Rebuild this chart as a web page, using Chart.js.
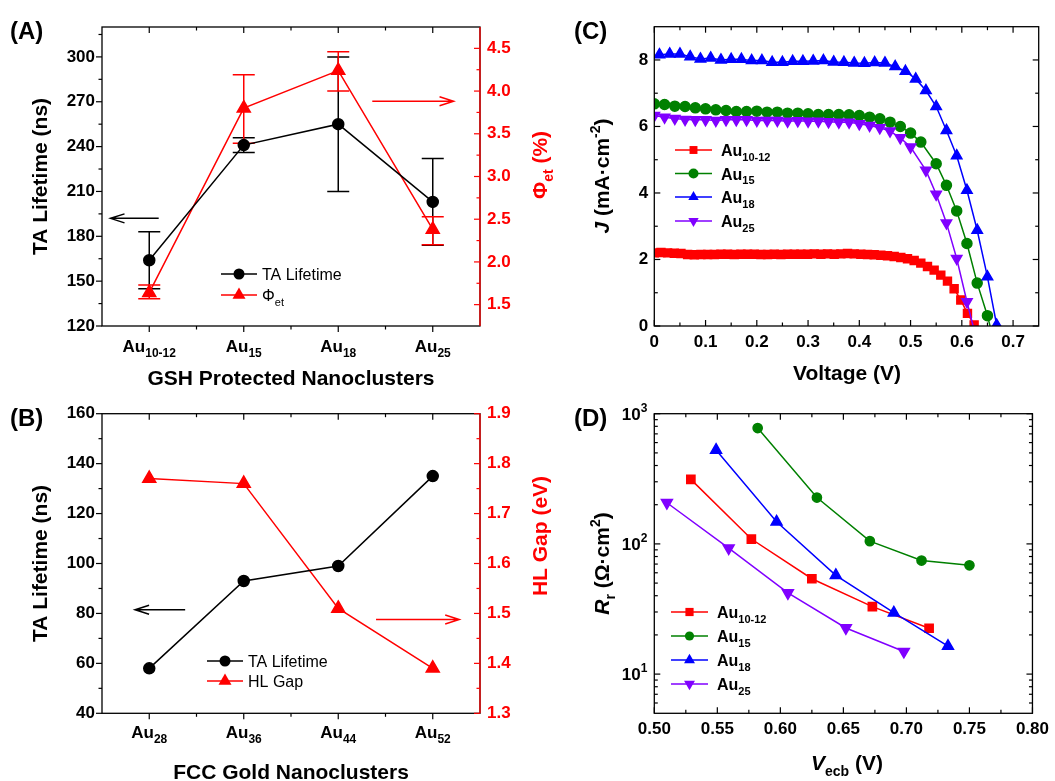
<!DOCTYPE html>
<html><head><meta charset="utf-8">
<script src="https://cdn.jsdelivr.net/npm/chart.js@4.4.0/dist/chart.umd.min.js"></script>
<style>
html,body{margin:0;padding:0;background:#fff;}
#wrap{position:relative;width:1055px;height:781px;overflow:hidden;background:#fff;}
canvas{position:absolute;}
</style></head><body>
<div id="wrap">
<canvas id="cA" width="560" height="390" style="left:0;top:0"></canvas>
<canvas id="cB" width="560" height="391" style="left:0;top:390px"></canvas>
<canvas id="cC" width="527" height="390" style="left:528px;top:0"></canvas>
<canvas id="cD" width="527" height="391" style="left:528px;top:390px"></canvas>
</div>
<script>
// ---------- Panel A data ----------
const GSH_CATEGORIES = ['Au_{10-12}', 'Au_{15}', 'Au_{18}', 'Au_{25}'];
const GSH_TA_LIFETIME = [164, 241, 255, 203];
const GSH_TA_ERR_LOW = [145, 236, 210, 174];
const GSH_TA_ERR_HIGH = [183, 246, 300, 232];
const GSH_PHI_ET = [1.64, 3.80, 4.24, 2.38];
const GSH_PHI_ERR_LOW = [1.57, 3.39, 4.00, 2.20];
const GSH_PHI_ERR_HIGH = [1.73, 4.19, 4.46, 2.53];
const A_LEFT_TICKS = [120, 150, 180, 210, 240, 270, 300];
const A_LEFT_MINOR = [135, 165, 195, 225, 255, 285, 315];
const A_RIGHT_TICKS = [1.5, 2.0, 2.5, 3.0, 3.5, 4.0, 4.5];
const A_RIGHT_MINOR = [1.75, 2.25, 2.75, 3.25, 3.75, 4.25];

// ---------- Panel B data ----------
const FCC_CATEGORIES = ['Au_{28}', 'Au_{36}', 'Au_{44}', 'Au_{52}'];
const FCC_TA_LIFETIME = [58, 93, 99, 135];
const FCC_HL_GAP = [1.77, 1.76, 1.51, 1.39];
const B_LEFT_TICKS = [40, 60, 80, 100, 120, 140, 160];
const B_LEFT_MINOR = [50, 70, 90, 110, 130, 150];
const B_RIGHT_TICKS = [1.3, 1.4, 1.5, 1.6, 1.7, 1.8, 1.9];
const B_RIGHT_MINOR = [1.35, 1.45, 1.55, 1.65, 1.75, 1.85];

// ---------- Panel C data (J-V curves) ----------
const JV_AU1012_V = [0.000,0.013,0.026,0.039,0.052,0.065,0.078,0.091,0.104,0.117,0.130,0.143,0.156,0.169,0.182,0.195,0.208,0.221,0.234,0.247,0.260,0.273,0.286,0.299,0.312,0.325,0.338,0.351,0.364,0.377,0.390,0.403,0.416,0.429,0.442,0.455,0.468,0.481,0.494,0.507,0.520,0.533,0.546,0.559,0.572,0.585,0.598,0.611,0.624];
const JV_AU1012_J = [2.20,2.21,2.20,2.19,2.18,2.15,2.14,2.15,2.15,2.15,2.16,2.16,2.15,2.16,2.16,2.16,2.15,2.15,2.16,2.15,2.16,2.16,2.16,2.16,2.17,2.16,2.17,2.16,2.17,2.18,2.17,2.16,2.15,2.14,2.13,2.11,2.09,2.06,2.02,1.97,1.89,1.79,1.68,1.53,1.35,1.12,0.78,0.38,0.03];
const JV_AU15_V = [0.00,0.02,0.04,0.06,0.08,0.10,0.12,0.14,0.16,0.18,0.20,0.22,0.24,0.26,0.28,0.30,0.32,0.34,0.36,0.38,0.40,0.42,0.44,0.46,0.48,0.50,0.52,0.55,0.57,0.59,0.61,0.63,0.65,0.655];
const JV_AU15_J = [6.68,6.66,6.61,6.60,6.56,6.53,6.50,6.48,6.45,6.45,6.46,6.43,6.43,6.40,6.40,6.38,6.36,6.36,6.36,6.35,6.33,6.28,6.23,6.13,6.00,5.80,5.53,4.88,4.23,3.46,2.48,1.29,0.31,0];
const JV_AU18_V = [0.01,0.03,0.05,0.07,0.09,0.11,0.13,0.15,0.17,0.19,0.21,0.23,0.25,0.27,0.29,0.31,0.33,0.35,0.37,0.39,0.41,0.43,0.45,0.47,0.49,0.51,0.53,0.55,0.57,0.59,0.61,0.63,0.65,0.668];
const JV_AU18_J = [8.16,8.18,8.18,8.10,8.03,8.06,8.00,8.02,8.02,7.98,7.98,7.93,7.93,7.96,7.96,7.97,7.98,7.94,7.93,7.91,7.90,7.92,7.91,7.80,7.66,7.43,7.08,6.60,5.88,5.12,4.08,2.88,1.48,0.03];
const JV_AU25_V = [0.00,0.02,0.04,0.06,0.08,0.10,0.12,0.14,0.16,0.18,0.20,0.22,0.24,0.26,0.28,0.30,0.32,0.34,0.36,0.38,0.40,0.42,0.44,0.46,0.48,0.50,0.53,0.55,0.57,0.59,0.61,0.622];
const JV_AU25_J = [6.33,6.28,6.24,6.21,6.20,6.20,6.18,6.20,6.20,6.20,6.18,6.18,6.18,6.16,6.17,6.16,6.16,6.14,6.13,6.13,6.08,6.03,5.96,5.86,5.66,5.38,4.68,3.96,3.10,2.03,0.73,0];
const C_X_TICKS = [0, 0.1, 0.2, 0.3, 0.4, 0.5, 0.6, 0.7];
const C_X_MINOR = [0.05, 0.15, 0.25, 0.35, 0.45, 0.55, 0.65];
const C_Y_TICKS = [0, 2, 4, 6, 8];
const C_Y_MINOR = [1, 3, 5, 7];

// ---------- Panel D data (recombination resistance) ----------
const RR_AU1012_V = [0.529, 0.577, 0.625, 0.673, 0.718];
const RR_AU1012_R = [313, 109, 54, 33, 22.5];
const RR_AU15_V = [0.582, 0.629, 0.671, 0.712, 0.750];
const RR_AU15_R = [776, 227, 105, 74.5, 68.5];
const RR_AU18_V = [0.549, 0.597, 0.644, 0.690, 0.733];
const RR_AU18_R = [526, 148, 57.4, 29.6, 16.4];
const RR_AU25_V = [0.510, 0.559, 0.606, 0.652, 0.698];
const RR_AU25_R = [207, 92.7, 42, 22.6, 14.9];
const D_X_TICKS = [0.50, 0.55, 0.60, 0.65, 0.70, 0.75, 0.80];
const D_X_MINOR = [0.525, 0.575, 0.625, 0.675, 0.725, 0.775];
const D_Y_TICKS = [10, 100, 1000];
const D_Y_MINOR = [6, 7, 8, 9, 20, 30, 40, 50, 60, 70, 80, 90, 200, 300, 400, 500, 600, 700, 800, 900];

const SERIES_NAMES = ['Au_{10-12}', 'Au_{15}', 'Au_{18}', 'Au_{25}'];

// ---------- helpers ----------
const FONT = '"Liberation Sans", Arial, Helvetica, sans-serif';
Chart.defaults.font.family = FONT;
const RED = '#ff0000', GREEN = '#008000', BLUE = '#0000ff', PURPLE = '#8000ff';

function parseRich(s) {
  const out = []; let i = 0, buf = '';
  while (i < s.length) {
    const c = s[i];
    if ((c === '_' || c === '^' || c === '~') && s[i + 1] === '{') {
      if (buf) { out.push({ t: buf, m: 'n' }); buf = ''; }
      const j = s.indexOf('}', i + 2);
      out.push({ t: s.slice(i + 2, j), m: c === '_' ? 'sub' : c === '^' ? 'sup' : 'it' });
      i = j + 1;
    } else { buf += c; i++; }
  }
  if (buf) out.push({ t: buf, m: 'n' });
  return out;
}
function drawRich(ctx, s, x, y, o) {
  const segs = parseRich(s);
  const weight = o.weight || 'bold';
  const f = m => ((m === 'it') ? 'italic ' : '') + weight + ' ' + ((m === 'sub' || m === 'sup') ? o.sub : o.size) + 'px ' + FONT;
  let w = 0;
  segs.forEach(sg => { ctx.font = f(sg.m); sg.w = ctx.measureText(sg.t).width; w += sg.w; });
  ctx.save();
  ctx.translate(x, y);
  if (o.rot) ctx.rotate(o.rot);
  let cx = o.align === 'center' ? -w / 2 : o.align === 'right' ? -w : 0;
  ctx.fillStyle = o.color || '#000';
  ctx.textBaseline = 'alphabetic'; ctx.textAlign = 'left';
  segs.forEach(sg => {
    ctx.font = f(sg.m);
    const dy = sg.m === 'sub' ? o.size * 0.3 : sg.m === 'sup' ? -o.size * 0.45 : 0;
    ctx.fillText(sg.t, cx, dy);
    cx += sg.w;
  });
  ctx.restore();
}
function drawMarker(ctx, style, r, x, y, rot) {
  ctx.beginPath();
  if (style === 'circle') ctx.arc(x, y, r, 0, Math.PI * 2);
  else if (style === 'rect') { const s = r * Math.SQRT1_2; ctx.rect(x - s, y - s, 2 * s, 2 * s); }
  else {
    let a = (rot || 0) * Math.PI / 180;
    for (let k = 0; k < 3; k++) {
      const px = x + Math.sin(a) * r, py = y - Math.cos(a) * r;
      if (k) ctx.lineTo(px, py); else ctx.moveTo(px, py);
      a += 2 * Math.PI / 3;
    }
    ctx.closePath();
  }
  ctx.fill();
}

function decor(spec) {
  return {
    id: 'decor',
    beforeDatasetsDraw(chart) {
      const ctx = chart.ctx;
      (spec.errorBars || []).forEach(eb => {
        const xs = chart.scales[eb.x], ys = chart.scales[eb.y];
        ctx.save(); ctx.strokeStyle = eb.color; ctx.lineWidth = 1.5;
        eb.lo.forEach((lo, i) => {
          const x = xs.getPixelForValue(i), y0 = ys.getPixelForValue(lo), y1 = ys.getPixelForValue(eb.hi[i]);
          ctx.beginPath();
          ctx.moveTo(x, y0); ctx.lineTo(x, y1);
          ctx.moveTo(x - 11, y0); ctx.lineTo(x + 11, y0);
          ctx.moveTo(x - 11, y1); ctx.lineTo(x + 11, y1);
          ctx.stroke();
        });
        ctx.restore();
      });
    },
    afterDraw(chart) {
      const ctx = chart.ctx, a = chart.chartArea, ox = spec.ox, oy = spec.oy;
      ctx.save();
      ctx.lineWidth = 1.3; ctx.strokeStyle = '#000';
      ctx.strokeRect(a.left, a.top, a.right - a.left, a.bottom - a.top);
      if (spec.rightSpine) {
        ctx.strokeStyle = spec.rightSpine; ctx.beginPath();
        ctx.moveTo(a.right, a.top); ctx.lineTo(a.right, a.bottom); ctx.stroke();
      }
      spec.ticks.forEach(t => {
        const sc = chart.scales[t.scale];
        const v = { left: [1, 0], right: [-1, 0], bottom: [0, -1], top: [0, 1] }[t.side];
        const s = t.dir === 'in' ? 1 : -1;
        ctx.strokeStyle = t.color || '#000'; ctx.lineWidth = 1.2;
        const one = (val, len) => {
          const p = sc.getPixelForValue(val); let x0, y0;
          if (t.side === 'left') { x0 = a.left; y0 = p; }
          else if (t.side === 'right') { x0 = a.right; y0 = p; }
          else if (t.side === 'bottom') { x0 = p; y0 = a.bottom; }
          else { x0 = p; y0 = a.top; }
          ctx.beginPath(); ctx.moveTo(x0, y0); ctx.lineTo(x0 + v[0] * s * len, y0 + v[1] * s * len); ctx.stroke();
        };
        t.major.forEach(val => one(val, 6));
        (t.minor || []).forEach(val => one(val, 3.5));
      });
      (spec.arrows || []).forEach(ar => {
        const xs = chart.scales[ar.x], ys = chart.scales[ar.y];
        const x0 = xs.getPixelForValue(ar.from), x1 = xs.getPixelForValue(ar.to), y = ys.getPixelForValue(ar.at);
        const d = Math.sign(x1 - x0);
        ctx.strokeStyle = ar.color; ctx.lineWidth = 1.5;
        ctx.beginPath(); ctx.moveTo(x0, y); ctx.lineTo(x1, y);
        ctx.moveTo(x1 - d * 14, y - 4.5); ctx.lineTo(x1, y); ctx.lineTo(x1 - d * 14, y + 4.5);
        ctx.stroke();
      });
      if (spec.cat) {
        const sc = chart.scales[spec.cat.scale];
        spec.cat.labels.forEach((lab, i) => {
          drawRich(ctx, lab, sc.getPixelForValue(i), spec.cat.baseline - oy, { size: 17, sub: 12, align: 'center' });
        });
      }
      if (spec.logLabels) {
        const sc = chart.scales[spec.logLabels.scale];
        spec.logLabels.values.forEach(v => {
          const p = sc.getPixelForValue(v);
          drawRich(ctx, '10^{' + Math.round(Math.log10(v)) + '}', a.left - 7, p + 6, { size: 17, sub: 12, align: 'right' });
        });
      }
      ctx.translate(-ox, -oy);
      (spec.titles || []).forEach(t => {
        drawRich(ctx, t.text, t.x, t.y, { size: t.size || 21, sub: t.sub || 14, align: 'center', rot: t.rot || 0, color: t.color || '#000' });
      });
      if (spec.panel) drawRich(ctx, spec.panel.text, spec.panel.x, spec.panel.y, { size: 24, sub: 16, align: 'left' });
      if (spec.legend) {
        const L = spec.legend;
        L.items.forEach((it, k) => {
          const ds = chart.data.datasets[it.ds];
          const y = L.ys[k];
          ctx.strokeStyle = ds.borderColor; ctx.lineWidth = 1.5;
          ctx.beginPath(); ctx.moveTo(L.x0, y); ctx.lineTo(L.x1, y); ctx.stroke();
          ctx.fillStyle = ds.backgroundColor;
          drawMarker(ctx, ds.pointStyle, ds.legendRadius, (L.x0 + L.x1) / 2, y, ds.rotation || 0);
          drawRich(ctx, it.text, L.tx, y + 6, { size: 16, sub: 11, align: 'left', weight: L.weight });
        });
      }
      ctx.restore();
    }
  };
}

function fixedTicks(arr) { return s => { s.ticks = arr.map(v => ({ value: v })); }; }
const tickFont = { family: FONT, weight: 'bold', size: 17 };
const noGrid = { display: false, drawTicks: false };
const baseOpts = { responsive: false, animation: false, devicePixelRatio: 1, events: [],
  plugins: { legend: { display: false }, tooltip: { enabled: false } } };

// ---------- Chart A ----------
new Chart(document.getElementById('cA'), {
  type: 'line',
  data: {
    labels: GSH_CATEGORIES,
    datasets: [
      { label: 'TA Lifetime', data: GSH_TA_LIFETIME, yAxisID: 'y', borderColor: '#000', backgroundColor: '#000',
        pointStyle: 'circle', pointRadius: 5.5, legendRadius: 5.5, borderWidth: 1.5, tension: 0 },
      { label: 'Φet', data: GSH_PHI_ET, yAxisID: 'y2', borderColor: RED, backgroundColor: RED,
        pointStyle: 'triangle', pointRadius: 7.5, legendRadius: 7.5, borderWidth: 1.5, tension: 0 }
    ]
  },
  options: Object.assign({}, baseOpts, {
    layout: { padding: { top: 27, left: 0, right: 0, bottom: 0 } },
    scales: {
      x: { type: 'category', offset: true, grid: noGrid, border: { display: false }, ticks: { display: false },
           afterFit: s => { s.height = 64; } },
      y: { position: 'left', min: 120, max: 320, grid: noGrid, border: { display: false },
           ticks: { color: '#000', font: tickFont, padding: 7 }, afterBuildTicks: fixedTicks(A_LEFT_TICKS),
           afterFit: s => { s.width = 102; } },
      y2: { position: 'right', min: 1.25, max: 4.75, grid: noGrid, border: { display: false },
            ticks: { color: RED, font: tickFont, padding: 7, callback: v => Number(v).toFixed(1) },
            afterBuildTicks: fixedTicks(A_RIGHT_TICKS), afterFit: s => { s.width = 80; } }
    }
  }),
  plugins: [decor({
    ox: 0, oy: 0, rightSpine: RED,
    errorBars: [
      { x: 'x', y: 'y', lo: GSH_TA_ERR_LOW, hi: GSH_TA_ERR_HIGH, color: '#000' },
      { x: 'x', y: 'y2', lo: GSH_PHI_ERR_LOW, hi: GSH_PHI_ERR_HIGH, color: RED }
    ],
    ticks: [
      { scale: 'y', side: 'left', dir: 'out', major: A_LEFT_TICKS, minor: A_LEFT_MINOR },
      { scale: 'y2', side: 'right', dir: 'in', major: A_RIGHT_TICKS, minor: A_RIGHT_MINOR, color: RED },
      { scale: 'x', side: 'bottom', dir: 'out', major: [0, 1, 2, 3], minor: [0.5, 1.5, 2.5] },
      { scale: 'x', side: 'top', dir: 'in', major: [0, 1, 2, 3], minor: [0.5, 1.5, 2.5] }
    ],
    arrows: [
      { x: 'x', y: 'y', from: 0.10, to: -0.41, at: 192, color: '#000' },
      { x: 'x', y: 'y2', from: 2.36, to: 3.22, at: 3.88, color: RED }
    ],
    cat: { scale: 'x', labels: GSH_CATEGORIES, baseline: 352 },
    titles: [
      { text: 'TA Lifetime (ns)', x: 47, y: 176.5, rot: -Math.PI / 2 },
      { text: 'Φ_{et} (%)', x: 547, y: 165, rot: -Math.PI / 2, color: RED },
      { text: 'GSH Protected Nanoclusters', x: 291, y: 385 }
    ],
    panel: { text: '(A)', x: 10, y: 39 },
    legend: { x0: 221, x1: 257, tx: 262, ys: [274, 295], weight: 'normal',
      items: [{ ds: 0, text: 'TA Lifetime' }, { ds: 1, text: 'Φ_{et}' }] }
  })]
});

// ---------- Chart B ----------
new Chart(document.getElementById('cB'), {
  type: 'line',
  data: {
    labels: FCC_CATEGORIES,
    datasets: [
      { label: 'TA Lifetime', data: FCC_TA_LIFETIME, yAxisID: 'y', borderColor: '#000', backgroundColor: '#000',
        pointStyle: 'circle', pointRadius: 5.5, legendRadius: 5.5, borderWidth: 1.5, tension: 0 },
      { label: 'HL Gap', data: FCC_HL_GAP, yAxisID: 'y2', borderColor: RED, backgroundColor: RED,
        pointStyle: 'triangle', pointRadius: 7.5, legendRadius: 7.5, borderWidth: 1.5, tension: 0 }
    ]
  },
  options: Object.assign({}, baseOpts, {
    layout: { padding: { top: 23.7, left: 0, right: 0, bottom: 0 } },
    scales: {
      x: { type: 'category', offset: true, grid: noGrid, border: { display: false }, ticks: { display: false },
           afterFit: s => { s.height = 67.7; } },
      y: { position: 'left', min: 40, max: 160, grid: noGrid, border: { display: false },
           ticks: { color: '#000', font: tickFont, padding: 7 }, afterBuildTicks: fixedTicks(B_LEFT_TICKS),
           afterFit: s => { s.width = 102; } },
      y2: { position: 'right', min: 1.3, max: 1.9, grid: noGrid, border: { display: false },
            ticks: { color: RED, font: tickFont, padding: 7, callback: v => Number(v).toFixed(1) },
            afterBuildTicks: fixedTicks(B_RIGHT_TICKS), afterFit: s => { s.width = 80; } }
    }
  }),
  plugins: [decor({
    ox: 0, oy: 390, rightSpine: RED,
    ticks: [
      { scale: 'y', side: 'left', dir: 'out', major: B_LEFT_TICKS, minor: B_LEFT_MINOR },
      { scale: 'y2', side: 'right', dir: 'in', major: B_RIGHT_TICKS, minor: B_RIGHT_MINOR, color: RED },
      { scale: 'x', side: 'bottom', dir: 'out', major: [0, 1, 2, 3], minor: [0.5, 1.5, 2.5] },
      { scale: 'x', side: 'top', dir: 'in', major: [0, 1, 2, 3], minor: [0.5, 1.5, 2.5] }
    ],
    arrows: [
      { x: 'x', y: 'y', from: 0.38, to: -0.15, at: 81.5, color: '#000' },
      { x: 'x', y: 'y2', from: 2.40, to: 3.28, at: 1.488, color: RED }
    ],
    cat: { scale: 'x', labels: FCC_CATEGORIES, baseline: 738 },
    titles: [
      { text: 'TA Lifetime (ns)', x: 47, y: 563.5, rot: -Math.PI / 2 },
      { text: 'HL Gap (eV)', x: 547, y: 536, rot: -Math.PI / 2, color: RED },
      { text: 'FCC Gold Nanoclusters', x: 291, y: 779 }
    ],
    panel: { text: '(B)', x: 10, y: 426 },
    legend: { x0: 207, x1: 243, tx: 248, ys: [661, 681], weight: 'normal',
      items: [{ ds: 0, text: 'TA Lifetime' }, { ds: 1, text: 'HL Gap' }] }
  })]
});

// ---------- Chart C ----------
const xy = (xs, ys) => xs.map((x, i) => ({ x: x, y: ys[i] }));
const hideZero = r => c => (c.raw && c.raw.y === 0 ? 0 : r);
new Chart(document.getElementById('cC'), {
  type: 'line',
  data: {
    datasets: [
      { label: SERIES_NAMES[0], data: xy(JV_AU1012_V, JV_AU1012_J), borderColor: RED, backgroundColor: RED,
        pointStyle: 'rect', pointRadius: 5.6, legendRadius: 5.6, borderWidth: 1.5, order: 4 },
      { label: SERIES_NAMES[1], data: xy(JV_AU15_V, JV_AU15_J), borderColor: GREEN, backgroundColor: GREEN,
        pointStyle: 'circle', pointRadius: hideZero(5), legendRadius: 5, borderWidth: 1.5, order: 3 },
      { label: SERIES_NAMES[2], data: xy(JV_AU18_V, JV_AU18_J), borderColor: BLUE, backgroundColor: BLUE,
        pointStyle: 'triangle', pointRadius: 6, legendRadius: 6, borderWidth: 1.5, order: 2 },
      { label: SERIES_NAMES[3], data: xy(JV_AU25_V, JV_AU25_J), borderColor: PURPLE, backgroundColor: PURPLE,
        pointStyle: 'triangle', rotation: 180, pointRotation: 180, pointRadius: hideZero(6), legendRadius: 6, borderWidth: 1.5, order: 1 }
    ]
  },
  options: Object.assign({}, baseOpts, {
    layout: { padding: { top: 26.7, left: 0, right: 16.3, bottom: 0 } },
    scales: {
      x: { type: 'linear', min: 0, max: 0.75, grid: noGrid, border: { display: false },
           ticks: { color: '#000', font: tickFont, padding: 6 }, afterBuildTicks: fixedTicks(C_X_TICKS),
           afterFit: s => { s.height = 64; } },
      y: { position: 'left', min: 0, max: 9, grid: noGrid, border: { display: false },
           ticks: { color: '#000', font: tickFont, padding: 6 }, afterBuildTicks: fixedTicks(C_Y_TICKS),
           afterFit: s => { s.width = 126.3; } }
    }
  }),
  plugins: [decor({
    ox: 528, oy: 0,
    ticks: [
      { scale: 'y', side: 'left', dir: 'in', major: C_Y_TICKS, minor: C_Y_MINOR },
      { scale: 'y', side: 'right', dir: 'in', major: C_Y_TICKS, minor: C_Y_MINOR },
      { scale: 'x', side: 'bottom', dir: 'in', major: C_X_TICKS, minor: C_X_MINOR },
      { scale: 'x', side: 'top', dir: 'in', major: C_X_TICKS, minor: C_X_MINOR }
    ],
    titles: [
      { text: '~{J} (mA·cm^{-2})', x: 609, y: 176, rot: -Math.PI / 2 },
      { text: 'Voltage (V)', x: 847, y: 380 }
    ],
    panel: { text: '(C)', x: 574, y: 39 },
    legend: { x0: 675, x1: 712, tx: 721, ys: [150, 173.5, 197, 221], weight: 'bold',
      items: SERIES_NAMES.map((n, i) => ({ ds: i, text: n })) }
  })]
});

// ---------- Chart D ----------
new Chart(document.getElementById('cD'), {
  type: 'line',
  data: {
    datasets: [
      { label: SERIES_NAMES[0], data: xy(RR_AU1012_V, RR_AU1012_R), borderColor: RED, backgroundColor: RED,
        pointStyle: 'rect', pointRadius: 5.8, legendRadius: 5.8, borderWidth: 1.5, order: 4 },
      { label: SERIES_NAMES[1], data: xy(RR_AU15_V, RR_AU15_R), borderColor: GREEN, backgroundColor: GREEN,
        pointStyle: 'circle', pointRadius: 4.6, legendRadius: 4.6, borderWidth: 1.5, order: 3 },
      { label: SERIES_NAMES[2], data: xy(RR_AU18_V, RR_AU18_R), borderColor: BLUE, backgroundColor: BLUE,
        pointStyle: 'triangle', pointRadius: 6.3, legendRadius: 6.3, borderWidth: 1.5, order: 2 },
      { label: SERIES_NAMES[3], data: xy(RR_AU25_V, RR_AU25_R), borderColor: PURPLE, backgroundColor: PURPLE,
        pointStyle: 'triangle', rotation: 180, pointRotation: 180, pointRadius: 6.3, legendRadius: 6.3, borderWidth: 1.5, order: 1 }
    ]
  },
  options: Object.assign({}, baseOpts, {
    layout: { padding: { top: 23.7, left: 0, right: 16.3, bottom: 0 } },
    scales: {
      x: { type: 'linear', min: 0.5, max: 0.8, grid: noGrid, border: { display: false },
           ticks: { color: '#000', font: tickFont, padding: 6, callback: v => Number(v).toFixed(2) },
           afterBuildTicks: fixedTicks(D_X_TICKS), afterFit: s => { s.height = 67.7; } },
      y: { type: 'logarithmic', position: 'left', min: 5, max: 1000, grid: noGrid, border: { display: false },
           ticks: { display: false }, afterBuildTicks: fixedTicks(D_Y_TICKS),
           afterFit: s => { s.width = 126.3; } }
    }
  }),
  plugins: [decor({
    ox: 528, oy: 390,
    ticks: [
      { scale: 'y', side: 'left', dir: 'in', major: D_Y_TICKS, minor: D_Y_MINOR },
      { scale: 'y', side: 'right', dir: 'in', major: D_Y_TICKS, minor: D_Y_MINOR },
      { scale: 'x', side: 'bottom', dir: 'in', major: D_X_TICKS, minor: D_X_MINOR },
      { scale: 'x', side: 'top', dir: 'in', major: D_X_TICKS, minor: D_X_MINOR }
    ],
    logLabels: { scale: 'y', values: D_Y_TICKS },
    titles: [
      { text: '~{R}_{r} (Ω·cm^{2})', x: 609, y: 563.5, rot: -Math.PI / 2 },
      { text: '~{V}_{ecb} (V)', x: 847, y: 770 }
    ],
    panel: { text: '(D)', x: 574, y: 426 },
    legend: { x0: 671, x1: 708, tx: 717, ys: [612, 636, 660, 684], weight: 'bold',
      items: SERIES_NAMES.map((n, i) => ({ ds: i, text: n })) }
  })]
});
</script>
</body></html>
